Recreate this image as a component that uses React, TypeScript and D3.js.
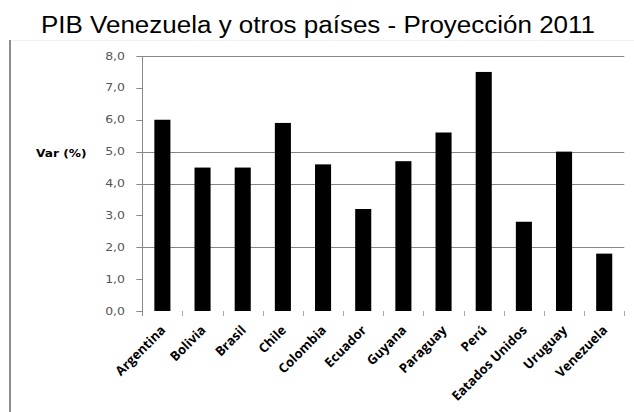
import React from "react";
import * as d3 from "d3";

const categories = ["Argentina", "Bolivia", "Brasil", "Chile", "Colombia", "Ecuador", "Guyana", "Paraguay", "Perú", "Eatados Unidos", "Uruguay", "Venezuela"];
const values = [6.0, 4.5, 4.5, 5.9, 4.6, 3.2, 4.7, 5.6, 7.5, 2.8, 5.0, 1.8];
const yTicks = [0, 1, 2, 3, 4, 5, 6, 7, 8];
const gridValues = [8, 5, 4, 2];
const title = "PIB Venezuela y otros países - Proyección 2011";
const yTitle = "Var (%)";

const W = 634, H = 412;
const L = 142.3, R = 624.3, T = 56, B = 311;

export default function App() {
  const x = d3.scaleBand<string>().domain(categories).range([L, R]).paddingInner(0.6).paddingOuter(0.3);
  const xb = d3.scaleBand<string>().domain(categories).range([L, R]);
  const y = d3.scaleLinear().domain([0, 8]).range([B, T]);
  const fmt = (v: number) => v.toFixed(1).replace(".", ",");
  return (
    <svg width={W} height={H} style={{ position: "absolute", left: 0, top: 0, background: "#fff" }}>
      <line x1={10} x2={10} y1={40} y2={H} stroke="#8c8c8c" strokeWidth={2} />
      <line x1={11} x2={W} y1={40.5} y2={40.5} stroke="#f2f2f2" strokeWidth={1} />
      <text x={41} y={33} textLength={554} lengthAdjust="spacingAndGlyphs" fontFamily="Liberation Sans, Arial, sans-serif" fontSize={23.5} fill="#000">{title}</text>
      {gridValues.map((g) => (
        <line key={"g" + g} x1={L} x2={R} y1={Math.round(y(g)) + 0.5} y2={Math.round(y(g)) + 0.5} stroke="#878787" strokeWidth={1} />
      ))}
      {yTicks.map((t) => (
        <g key={"t" + t}>
          <line x1={L - 6} x2={L} y1={Math.round(y(t)) + 0.5} y2={Math.round(y(t)) + 0.5} stroke="#878787" />
          <text transform={`translate(125,${y(t) + 3.5}) scale(1.25,1)`} textAnchor="end" fontFamily="DejaVu Sans, Verdana, sans-serif" fontSize={10} fill="#555">{fmt(t)}</text>
        </g>
      ))}
      <line x1={Math.round(L) + 0.5} x2={Math.round(L) + 0.5} y1={T} y2={B + 5} stroke="#878787" />
      {categories.map((c, i) => (
        <line key={"xt" + i} x1={Math.round(xb(c)! + xb.bandwidth()) + 0.5} x2={Math.round(xb(c)! + xb.bandwidth()) + 0.5} y1={B} y2={B + 5} stroke="#aaa" />
      ))}
      {categories.map((c, i) => (
        <rect key={"b" + i} x={x(c)} width={x.bandwidth()} y={y(values[i])} height={B - y(values[i])} fill="#000" />
      ))}
      <text transform="translate(36,157) scale(1.22,1)" fontFamily="DejaVu Sans, Verdana, sans-serif" fontWeight="bold" fontSize={10} fill="#000">{yTitle}</text>
      {categories.map((c, i) => {
        const cx = xb(c)! + xb.bandwidth() / 2 + 4;
        const cy = 331;
        return (
          <text key={"xl" + i} transform={`translate(${cx},${cy}) rotate(-45)`} textAnchor="end" fontFamily="Open Sans, sans-serif" fontWeight="bold" fontSize={13} fill="#000">{c}</text>
        );
      })}
    </svg>
  );
}
